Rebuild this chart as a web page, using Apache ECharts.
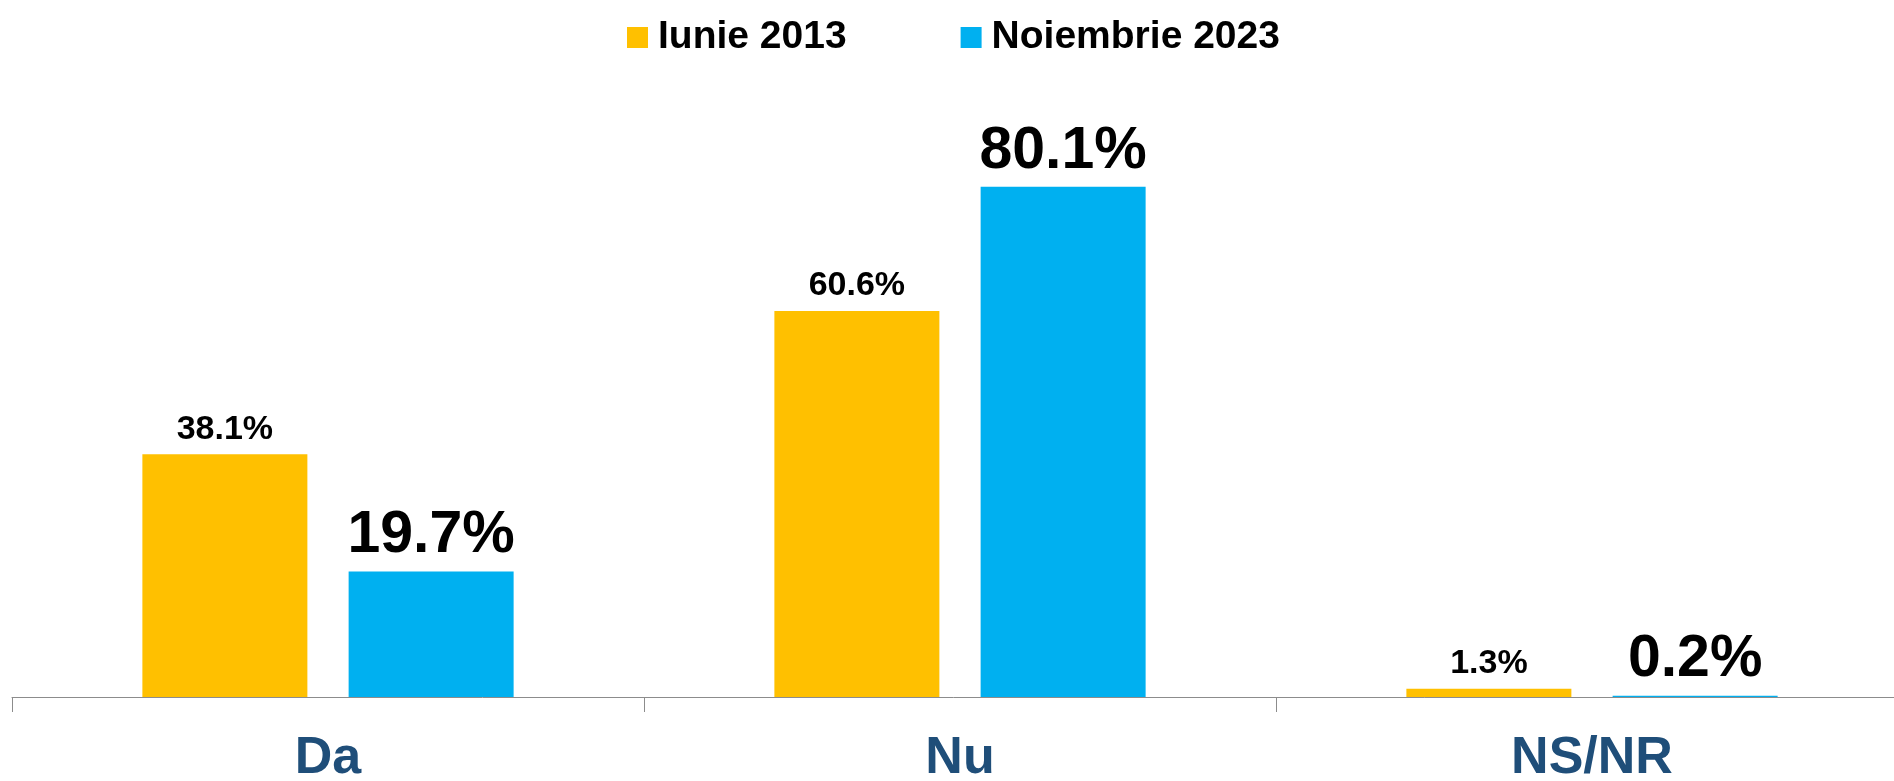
<!DOCTYPE html>
<html>
<head>
<meta charset="utf-8">
<script src="https://cdn.jsdelivr.net/npm/echarts@6/dist/echarts.min.js"></script>
<style>
  html, body { margin: 0; padding: 0; background: #fff; overflow: hidden; }
  #chart { width: 1894px; height: 781px; }
</style>
</head>
<body>
<div id="chart"></div>
<script>
// categorii si valori (%)
const categories = ['Da', 'Nu', 'NS/NR'];
const seriesNames = ['Iunie 2013', 'Noiembrie 2023'];
const iunie2013 = [38.1, 60.6, 1.3];
const noiembrie2023 = [19.7, 80.1, 0.2];

const chart = echarts.init(document.getElementById('chart'));

const fmt = p => p.value.toFixed(1) + '%';

const option = {
  backgroundColor: '#fff',
  animation: false,
  legend: {
    data: seriesNames,
    left: 622,
    top: 13,
    itemWidth: 21,
    itemHeight: 21,
    itemGap: 114,
    icon: 'rect',
    textStyle: {
      color: '#000',
      fontSize: 39,
      fontWeight: 'bold',
      fontFamily: 'Liberation Sans',
      padding: [0, 0, 0, 5]
    }
  },
  grid: {
    left: 12,
    right: -14,
    top: 60,
    bottom: 84,
    outerBoundsMode: 'none',
    containLabel: false
  },
  xAxis: {
    type: 'category',
    data: categories,
    axisLine: { lineStyle: { color: '#8c8c8c', width: 1 } },
    axisTick: { show: true, length: 15, lineStyle: { color: '#8c8c8c' } },
    axisLabel: {
      color: '#1f4e79',
      fontSize: 52,
      fontWeight: 'bold',
      fontFamily: 'Liberation Sans',
      margin: 36
    }
  },
  yAxis: {
    type: 'value',
    min: 0,
    max: 100,
    show: false,
    splitLine: { show: false }
  },
  series: [
    {
      name: seriesNames[0],
      type: 'bar',
      data: iunie2013,
      barWidth: 165,
      barGap: '25%',
      itemStyle: { color: '#ffc000' },
      label: {
        show: true,
        position: 'top',
        distance: 8,
        formatter: fmt,
        color: '#000',
        fontSize: 34,
        fontWeight: 'bold',
        fontFamily: 'Liberation Sans'
      }
    },
    {
      name: seriesNames[1],
      type: 'bar',
      data: noiembrie2023,
      barWidth: 165,
      barGap: '25%',
      itemStyle: { color: '#00b0f0' },
      label: {
        show: true,
        position: 'top',
        distance: 6,
        formatter: fmt,
        color: '#000',
        fontSize: 59,
        fontWeight: 'bold',
        fontFamily: 'Liberation Sans'
      }
    }
  ]
};

chart.setOption(option);
window.addEventListener('resize', () => chart.resize());
</script>
</body>
</html>
